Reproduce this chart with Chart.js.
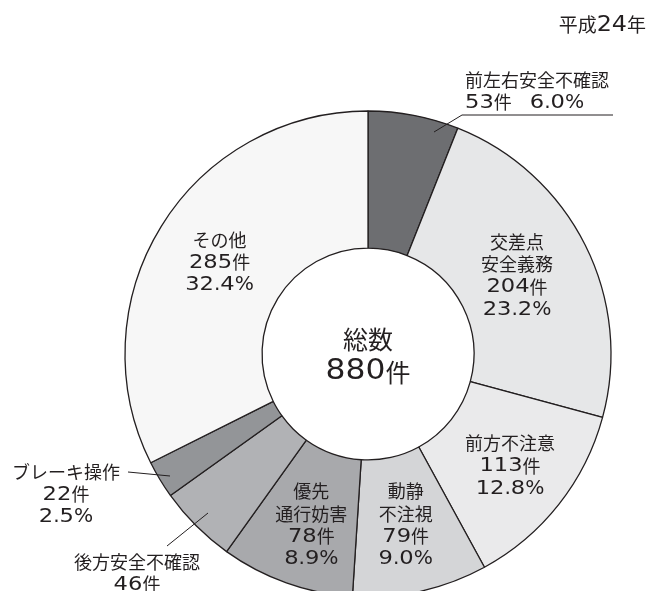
<!DOCTYPE html>
<html lang="ja">
<head>
<meta charset="utf-8">
<title>平成24年 違反別件数</title>
<script src="https://cdn.jsdelivr.net/npm/chart.js@4.4.1/dist/chart.umd.min.js"></script>
<style>
  html, body { margin: 0; padding: 0; background: #ffffff; overflow: hidden; }
  #wrap { position: relative; width: 654px; height: 591px; }
</style>
</head>
<body>
<div id="wrap"><canvas id="chart" width="654" height="591"></canvas></div>
<script>
// 違反種別（時計回り、上から）
const categories = [
  ['前左右安全不確認'],
  ['交差点', '安全義務'],
  ['前方不注意'],
  ['動静', '不注視'],
  ['優先', '通行妨害'],
  ['後方安全不確認'],
  ['ブレーキ操作'],
  ['その他']
];
// 件数
const counts = [53, 204, 113, 79, 78, 46, 22, 285];
const sliceColors = ['#6d6e71', '#e6e7e8', '#eaeaeb', '#d4d5d7', '#a8a9ac', '#b1b2b5', '#939598', '#f7f7f7'];
const yearLabel = '平成24年';
const totalLabel = '総数';

const total = counts.reduce((a, b) => a + b, 0);
const CJK_FONT = '"Noto Sans CJK JP", "Noto Sans", sans-serif';
const LATIN_FONT = '"DejaVu Sans", sans-serif';
const LATIN_SCALE = 1.12;     // 欧文は和文より少し大きく
const DIGIT_STRETCH = 1.12;   // 数字は横長の書体
const INK = '#231f20';

// ラベル配置: inside = 扇形の重心からのずれ, outside = 固定位置＋引き出し線
const labelLayout = [
  { mode: 'outside', x: 465, y: 80, align: 'left', oneLine: true, leader: [[613, 115], [462, 115], [434, 132]] },
  { mode: 'inside', dx: -7, dy: 0 },
  { mode: 'inside', dx: 5, dy: 4 },
  { mode: 'inside', dx: 0, dy: 1 },
  { mode: 'inside', dx: 2, dy: 7 },
  { mode: 'outside', x: 137, y: 562, align: 'center', leader: [[167, 546], [208, 513]] },
  { mode: 'outside', x: 66, y: 472, align: 'center', leader: [[128, 472], [170, 476]] },
  { mode: 'inside', dx: 0, dy: 0 }
];
const LINE_H = 22.5;

function labelLines(i) {
  const pct = (counts[i] / total * 100).toFixed(1) + '%';
  const n = counts[i] + '件';
  if (labelLayout[i].oneLine) return categories[i].concat([n + '\u3000' + pct]);
  return categories[i].concat([n, pct]);
}

// 和文・欧文を分けて描く（数字は横に伸ばす）
function splitRuns(text) {
  const runs = [];
  for (const ch of text) {
    const kind = /[0-9]/.test(ch) ? 'digit' : (/[\x20-\x7e]/.test(ch) ? 'latin' : 'cjk');
    const last = runs[runs.length - 1];
    if (last && last.kind === kind) last.text += ch;
    else runs.push({ kind, text: ch });
  }
  return runs;
}

function runFont(kind, size) {
  return kind === 'cjk' ? size + 'px ' + CJK_FONT : (size * LATIN_SCALE).toFixed(1) + 'px ' + LATIN_FONT;
}

function runWidth(ctx, run, size) {
  ctx.font = runFont(run.kind, size);
  const w = ctx.measureText(run.text).width;
  return run.kind === 'digit' ? w * DIGIT_STRETCH : w;
}

function drawMixed(ctx, text, x, y, size, align) {
  const runs = splitRuns(text);
  const widths = runs.map(r => runWidth(ctx, r, size));
  const totalW = widths.reduce((a, b) => a + b, 0);
  let cx = align === 'center' ? x - totalW / 2 : (align === 'right' ? x - totalW : x);
  ctx.save();
  ctx.textAlign = 'left';
  ctx.textBaseline = 'middle';
  runs.forEach((r, k) => {
    ctx.font = runFont(r.kind, size);
    if (r.kind === 'digit') {
      ctx.save();
      ctx.translate(cx, y);
      ctx.scale(DIGIT_STRETCH, 1);
      ctx.fillText(r.text, 0, 0);
      ctx.restore();
    } else {
      ctx.fillText(r.text, cx, y);
    }
    cx += widths[k];
  });
  ctx.restore();
}

const labelsPlugin = {
  id: 'sliceLabels',
  afterDatasetsDraw(chart) {
    const ctx = chart.ctx;
    const arcs = chart.getDatasetMeta(0).data;
    ctx.save();
    ctx.fillStyle = INK;
    ctx.strokeStyle = INK;

    arcs.forEach((arc, i) => {
      const lay = labelLayout[i];
      const lines = labelLines(i);
      let x, y0, align;
      if (lay.mode === 'inside') {
        const c = arc.tooltipPosition();
        x = c.x + lay.dx;
        y0 = c.y + lay.dy - (lines.length - 1) * LINE_H / 2;
        align = 'center';
      } else {
        x = lay.x;
        y0 = lay.y;
        align = lay.align;
        ctx.lineWidth = 1;
        ctx.beginPath();
        lay.leader.forEach((p, k) => (k ? ctx.lineTo(p[0], p[1]) : ctx.moveTo(p[0], p[1])));
        ctx.stroke();
      }
      lines.forEach((t, k) => drawMixed(ctx, t, x, y0 + k * LINE_H, 18, align));
    });

    // 中央の総数
    const c0 = arcs[0];
    drawMixed(ctx, totalLabel, c0.x, c0.y - 15, 25, 'center');
    drawMixed(ctx, total + '件', c0.x, c0.y + 18, 25, 'center');

    // 年
    drawMixed(ctx, yearLabel, 646, 25, 19, 'right');
    ctx.restore();
  }
};

new Chart(document.getElementById('chart'), {
  type: 'doughnut',
  data: {
    labels: categories.map(c => c.join('')),
    datasets: [{
      data: counts,
      backgroundColor: sliceColors,
      borderColor: INK,
      borderWidth: 1.3,
      radius: 243,
      cutout: '43.6%'
    }]
  },
  options: {
    responsive: false,
    animation: false,
    events: [],
    rotation: 0,
    layout: { padding: { top: 117, left: 82, right: 0, bottom: 0 } },
    plugins: { legend: { display: false }, tooltip: { enabled: false } }
  },
  plugins: [labelsPlugin]
});
</script>
</body>
</html>
